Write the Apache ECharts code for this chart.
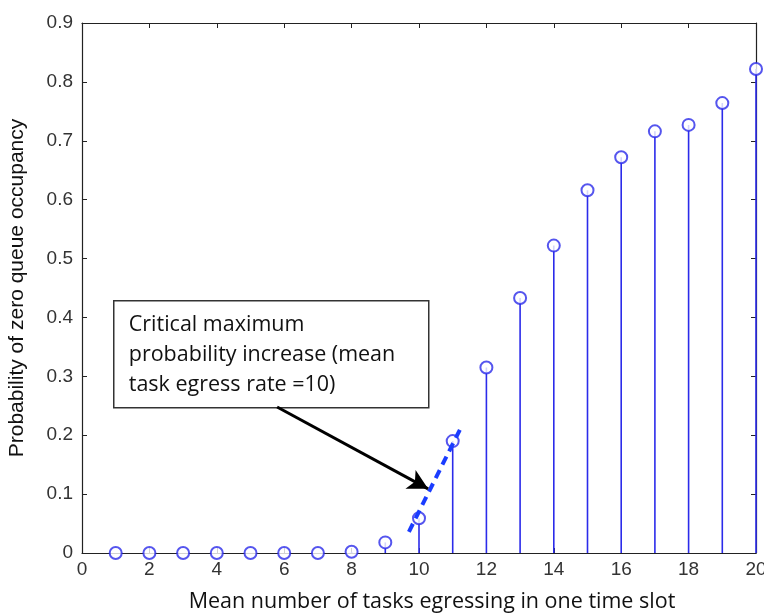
<!DOCTYPE html>
<html>
<head>
<meta charset="utf-8">
<script src="https://cdn.jsdelivr.net/npm/echarts@6/dist/echarts.min.js"></script>
<style>
  html, body { margin: 0; padding: 0; background: #fff; }
  #chart { width: 764px; height: 616px; }
</style>
</head>
<body>
<div id="chart"></div>
<script>
// mean egress rate (x) and probability of zero queue occupancy (y)
const egressRates = [1, 2, 3, 4, 5, 6, 7, 8, 9, 10, 11, 12, 13, 14, 15, 16, 17, 18, 19, 20];
const zeroQueueProb = [0, 0, 0, 0, 0, 0, 0, 0.002, 0.018, 0.059, 0.19, 0.315, 0.433, 0.522, 0.616, 0.672, 0.716, 0.727, 0.764, 0.822];

// dashed slope line and annotation arrow, in data coordinates
const slopeLine = [[9.7, 0.036], [11.28, 0.217]];
const arrowLine = [[5.79, 0.248], [10.27, 0.109]];
const noteLines = ["Critical maximum", "probability increase (mean", "task egress rate =10)"];

const blue = "#2b2bea";
const axisColor = "#222";
const tickFont = { color: "#333", fontFamily: "Liberation Sans", fontSize: 19 };

const chart = echarts.init(document.getElementById("chart"));

const pts = egressRates.map((x, i) => [x, zeroQueueProb[i]]);

const baseX = {
  type: "value",
  min: 0,
  max: 20,
  interval: 2,
  splitLine: { show: false },
  axisLine: { onZero: false, lineStyle: { color: axisColor, width: 1.2 } },
  axisTick: { inside: true, length: 5, lineStyle: { color: axisColor } },
};
const baseY = {
  type: "value",
  min: 0,
  max: 0.9,
  interval: 0.1,
  splitLine: { show: false },
  axisLine: { onZero: false, lineStyle: { color: axisColor, width: 1.2 } },
  axisTick: { inside: true, length: 5, lineStyle: { color: axisColor } },
};

const option = {
  animation: false,
  backgroundColor: "#fff",
  grid: { left: 82, right: 8, top: 23, bottom: 63, outerBoundsMode: "none", containLabel: false },
  xAxis: [
    Object.assign({}, baseX, {
      position: "bottom",
      axisLabel: Object.assign({ margin: 7 }, tickFont),
      name: "Mean number of tasks egressing in one time slot",
      nameLocation: "middle",
      nameGap: 38,
      nameTextStyle: { fontFamily: "Open Sans", fontSize: 21.5, color: "#111", padding: [0, 0, 0, 26] },
    }),
    Object.assign({}, baseX, { position: "top", axisLabel: { show: false } }),
  ],
  yAxis: [
    Object.assign({}, baseY, {
      position: "left",
      axisLabel: Object.assign({
        margin: 9,
        formatter: (v) => (v === 0 ? "0" : v.toFixed(1)),
      }, tickFont),
      name: "Probability of zero queue occupancy",
      nameLocation: "middle",
      nameGap: 54,
      nameTextStyle: { fontFamily: "Liberation Sans", fontSize: 21, color: "#111" },
    }),
    Object.assign({}, baseY, { position: "right", axisLabel: { show: false } }),
  ],
  series: [
    {
      type: "bar",
      data: pts,
      barWidth: 1.6,
      itemStyle: { color: blue },
      silent: true,
    },
    {
      type: "scatter",
      data: pts,
      symbol: "emptyCircle",
      symbolSize: 12,
      itemStyle: { color: blue, borderColor: blue, borderWidth: 1.6 },
      z: 3,
    },
    {
      type: "line",
      data: slopeLine,
      symbol: "none",
      lineStyle: { color: "#1a3cff", width: 4, type: [9, 6] },
      z: 4,
    },
    {
      type: "line",
      data: [],
      markLine: {
        silent: true,
        symbol: ["none", "arrow"],
        symbolSize: [16, 20],
        label: { show: false },
        lineStyle: { color: "#000", width: 3, type: "solid" },
        data: [[{ coord: arrowLine[0] }, { coord: arrowLine[1] }]],
      },
      z: 5,
    },
  ],
  graphic: [
    {
      type: "group",
      left: 113,
      top: 300,
      z: 10,
      children: [
        {
          type: "rect",
          shape: { x: 0, y: 0, width: 315, height: 107 },
          style: { fill: "#fff", stroke: "#333", lineWidth: 1.5 },
        },
        {
          type: "text",
          left: 15,
          top: 9,
          style: {
            text: noteLines.join("\n"),
            fontFamily: "Open Sans",
            fontSize: 21.5,
            lineHeight: 30,
            fill: "#111",
          },
        },
      ],
    },
  ],
};

chart.setOption(option);
</script>
</body>
</html>
